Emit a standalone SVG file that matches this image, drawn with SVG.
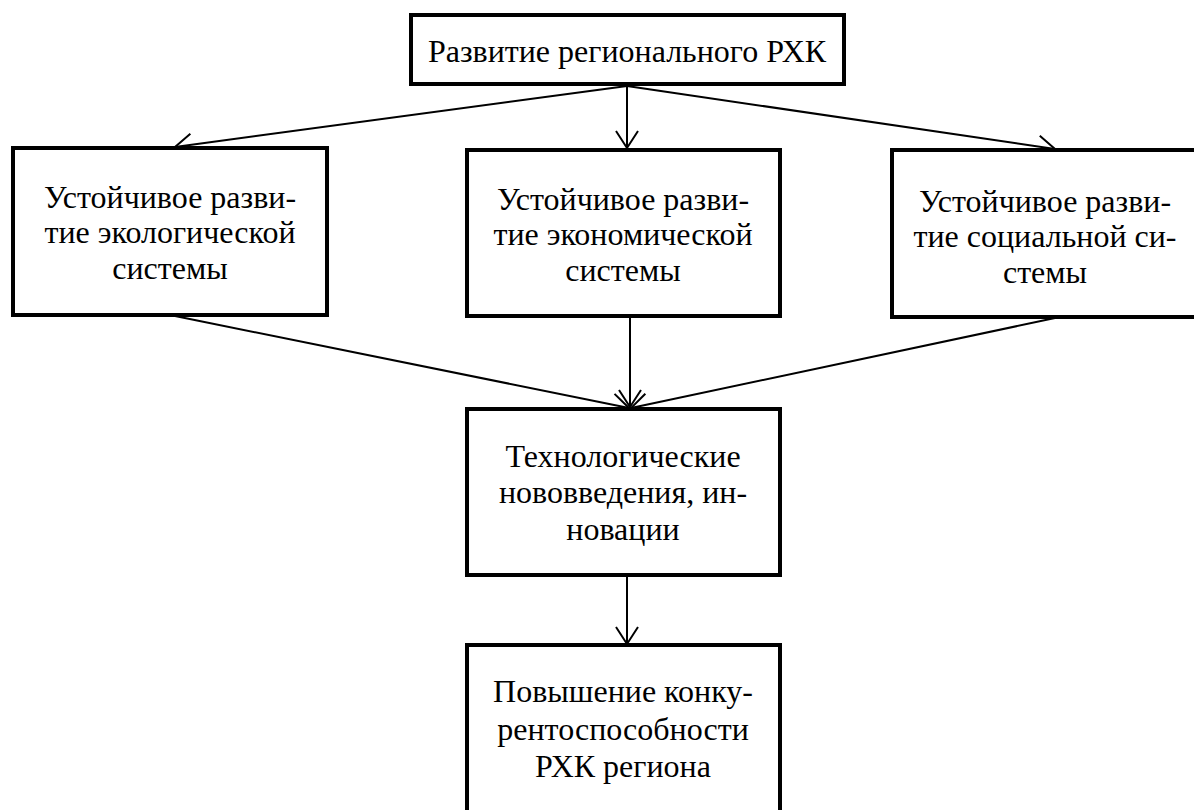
<svg xmlns="http://www.w3.org/2000/svg" width="1194" height="810" viewBox="0 0 1194 810">
<style>
.box{fill:#fff;stroke:#000;stroke-width:4}
.t{font-family:'Liberation Serif','DejaVu Serif',serif;font-size:32px;fill:#000;text-anchor:middle}
.c{stroke:#000;stroke-width:2;fill:none}
</style>
<defs>
<marker id="ah" viewBox="0 0 24 24" refX="21" refY="12" markerWidth="24" markerHeight="24" markerUnits="userSpaceOnUse" orient="auto">
<path d="M4,1 L21,12 L4,23" fill="none" stroke="#000" stroke-width="2"/>
</marker>
</defs>
<g id="connectors">
<line class="c" x1="627" y1="86" x2="627" y2="148" marker-end="url(#ah)"/>
<line class="c" x1="627" y1="86" x2="175" y2="147" marker-end="url(#ah)"/>
<line class="c" x1="627" y1="86" x2="1055" y2="149" marker-end="url(#ah)"/>
<line class="c" x1="175" y1="316" x2="629" y2="408" marker-end="url(#ah)"/>
<line class="c" x1="630" y1="318" x2="630" y2="407" marker-end="url(#ah)"/>
<line class="c" x1="1055" y1="318" x2="631" y2="408" marker-end="url(#ah)"/>
<line class="c" x1="627" y1="577" x2="627" y2="644" marker-end="url(#ah)"/>
</g>
<g id="top">
<rect class="box" x="411" y="15" width="433" height="69"/>
<text class="t" x="627" y="62">Развитие регионального РХК</text>
</g>
<g id="eco">
<rect class="box" x="13" y="148" width="314" height="167"/>
<text class="t" x="170" y="208">Устойчивое разви-</text>
<text class="t" x="170" y="243">тие экологической</text>
<text class="t" x="170" y="279">системы</text>
</g>
<g id="econ">
<rect class="box" x="467" y="150" width="313" height="166"/>
<text class="t" x="623" y="210">Устойчивое разви-</text>
<text class="t" x="623" y="245">тие экономической</text>
<text class="t" x="623" y="281">системы</text>
</g>
<g id="soc">
<rect class="box" x="892" y="150" width="310" height="167"/>
<text class="t" x="1045" y="212">Устойчивое разви-</text>
<text class="t" x="1045" y="247">тие социальной си-</text>
<text class="t" x="1045" y="283">стемы</text>
</g>
<g id="tech">
<rect class="box" x="467" y="409" width="313" height="166"/>
<text class="t" x="623" y="467">Технологические</text>
<text class="t" x="623" y="503">нововведения, ин-</text>
<text class="t" x="623" y="540">новации</text>
</g>
<g id="comp">
<rect class="box" x="467" y="645" width="313" height="175"/>
<text class="t" x="623" y="702">Повышение конку-</text>
<text class="t" x="623" y="740">рентоспособности</text>
<text class="t" x="623" y="777">РХК региона</text>
</g>
</svg>
